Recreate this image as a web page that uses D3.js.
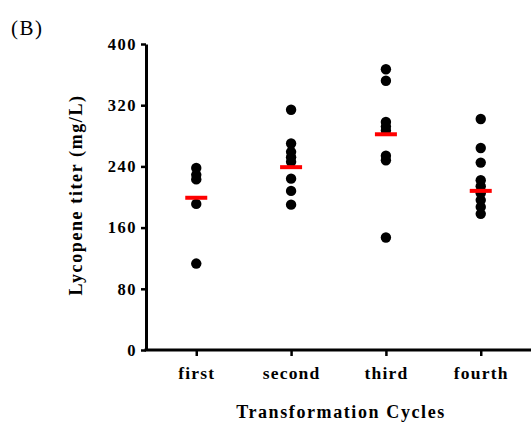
<!DOCTYPE html>
<html>
<head>
<meta charset="utf-8">
<script src="https://cdn.jsdelivr.net/npm/d3@7"></script>
<style>
  body { margin: 0; background: #fff; }
  svg { display: block; font-family: "Liberation Serif", "Times New Roman", serif; }
</style>
</head>
<body>
<div id="chart"></div>
<script>
// values
var cycles = ["first", "second", "third", "fourth"];
var firstVals = [238, 229, 223, 191, 113];
var secondVals = [314, 270, 259, 252, 246, 224, 208, 190];
var thirdVals = [367, 352, 298, 292, 287, 254, 248, 147];
var fourthVals = [302, 264, 245, 222, 214, 205, 196, 187, 178];
var means = [199, 239, 282, 208];
var yTicks = [0, 80, 160, 240, 320, 400];

var groups = [firstVals, secondVals, thirdVals, fourthVals];
var points = [];
groups.forEach(function(vals, i) {
    vals.forEach(function(v) { points.push({cat: cycles[i], v: v}); });
});

var width = 531, height = 425;
var margin = {top: 44, right: 0, bottom: 75, left: 146};

var svg = d3.select("#chart").append("svg")
    .attr("width", width)
    .attr("height", height);

var x = d3.scalePoint()
    .domain(cycles)
    .range([margin.left, width - margin.right])
    .padding(0.53);

var y = d3.scaleLinear()
    .domain([0, 400])
    .range([height - margin.bottom, margin.top]);

// y axis
var yAxis = svg.append("g")
    .attr("transform", "translate(" + margin.left + ",0)")
    .call(d3.axisLeft(y).tickValues(yTicks).tickSize(5).tickSizeOuter(0).tickPadding(4));
yAxis.select(".domain").attr("stroke-width", 3);
yAxis.selectAll(".tick line").attr("stroke-width", 2.5);
yAxis.selectAll("text")
    .attr("font-size", 16.5)
    .attr("font-weight", "bold")
    .attr("font-family", "Liberation Serif, serif")
    .attr("letter-spacing", 1.5)
    .attr("fill", "#000");

// x axis
var xAxis = svg.append("g")
    .attr("transform", "translate(0," + y(0) + ")")
    .call(d3.axisBottom(x).tickSize(6).tickSizeOuter(0).tickPadding(11));
xAxis.select(".domain").attr("stroke-width", 3)
    .attr("d", "M" + (margin.left - 1.5) + ",0H" + width);
xAxis.selectAll(".tick line").attr("stroke-width", 2.5);
xAxis.selectAll("text")
    .attr("font-size", 17.5)
    .attr("font-weight", "bold")
    .attr("font-family", "Liberation Serif, serif")
    .attr("letter-spacing", 1.2)
    .attr("fill", "#000");

// points
svg.selectAll("circle.pt")
    .data(points)
    .enter()
    .append("circle")
    .attr("class", "pt")
    .attr("cx", function(d) { return x(d.cat); })
    .attr("cy", function(d) { return y(d.v); })
    .attr("r", 5.2)
    .attr("fill", "#000");

// mean lines
svg.selectAll("line.mean")
    .data(means)
    .enter()
    .append("line")
    .attr("class", "mean")
    .attr("x1", function(d, i) { return x(cycles[i]) - 11; })
    .attr("x2", function(d, i) { return x(cycles[i]) + 11; })
    .attr("y1", function(d) { return y(d); })
    .attr("y2", function(d) { return y(d); })
    .attr("stroke", "#ff0000")
    .attr("stroke-width", 4);

// axis titles
svg.append("text")
    .attr("transform", "rotate(-90)")
    .attr("x", -195)
    .attr("y", 82)
    .attr("text-anchor", "middle")
    .attr("font-size", 18)
    .attr("font-weight", "bold")
    .attr("letter-spacing", 1.6)
    .text("Lycopene titer (mg/L)");

svg.append("text")
    .attr("x", 341)
    .attr("y", 418)
    .attr("text-anchor", "middle")
    .attr("font-size", 18)
    .attr("font-weight", "bold")
    .attr("letter-spacing", 1.6)
    .text("Transformation Cycles");

svg.append("text")
    .attr("x", 11)
    .attr("y", 35)
    .attr("font-size", 21)
    .attr("letter-spacing", 1.5)
    .text("(B)");
</script>
</body>
</html>
